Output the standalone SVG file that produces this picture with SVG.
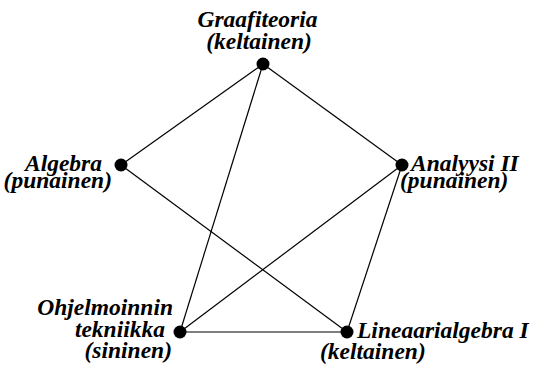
<svg xmlns="http://www.w3.org/2000/svg" width="535" height="367" viewBox="0 0 535 367">
<style>
.e line{stroke:#000;stroke-width:1.2}
circle{fill:#000}
</style>
<rect width="535" height="367" fill="#fff"/>
<g class="e" id="connectors">
<line x1="263" y1="64" x2="121" y2="165"/>
<line x1="263" y1="64" x2="402" y2="165"/>
<line x1="263" y1="64" x2="180" y2="332"/>
<line x1="121" y1="165" x2="347" y2="332"/>
<line x1="402" y1="165" x2="180" y2="332"/>
<line x1="402" y1="165" x2="347" y2="332"/>
<line x1="180" y1="332" x2="347" y2="332"/>
</g>
<g id="graafiteoria">
<circle cx="263" cy="64" r="6.5"/>
<text x="257.5" y="27" text-anchor="middle" font-family="Liberation Serif" font-weight="bold" font-style="italic" font-size="23.5">Graafiteoria</text>
<text x="259" y="49" text-anchor="middle" font-family="Liberation Serif" font-weight="bold" font-style="italic" font-size="23.5">(keltainen)</text>
</g>
<g id="algebra">
<circle cx="121" cy="165" r="6.5"/>
<text x="102" y="171" text-anchor="end" font-family="Liberation Serif" font-weight="bold" font-style="italic" font-size="23.5">Algebra</text>
<text x="112" y="188" text-anchor="end" font-family="Liberation Serif" font-weight="bold" font-style="italic" font-size="23.5">(punainen)</text>
</g>
<g id="analyysi">
<circle cx="402" cy="165" r="6.5"/>
<text x="411" y="171" font-family="Liberation Serif" font-weight="bold" font-style="italic" font-size="23.5">Analyysi II</text>
<text x="400" y="188" font-family="Liberation Serif" font-weight="bold" font-style="italic" font-size="23.5">(punainen)</text>
</g>
<g id="ohjelmoinnin">
<circle cx="180" cy="332" r="6.5"/>
<text x="173" y="315" text-anchor="end" font-family="Liberation Serif" font-weight="bold" font-style="italic" font-size="23.5">Ohjelmoinnin</text>
<text x="165" y="337" text-anchor="end" font-family="Liberation Serif" font-weight="bold" font-style="italic" font-size="23.5">tekniikka</text>
<text x="172" y="358" text-anchor="end" font-family="Liberation Serif" font-weight="bold" font-style="italic" font-size="23.5">(sininen)</text>
</g>
<g id="lineaari">
<circle cx="347" cy="332" r="6.5"/>
<text x="357" y="338" font-family="Liberation Serif" font-weight="bold" font-style="italic" font-size="23.5">Lineaarialgebra I</text>
<text x="320" y="359" font-family="Liberation Serif" font-weight="bold" font-style="italic" font-size="23.5">(keltainen)</text>
</g>
</svg>
